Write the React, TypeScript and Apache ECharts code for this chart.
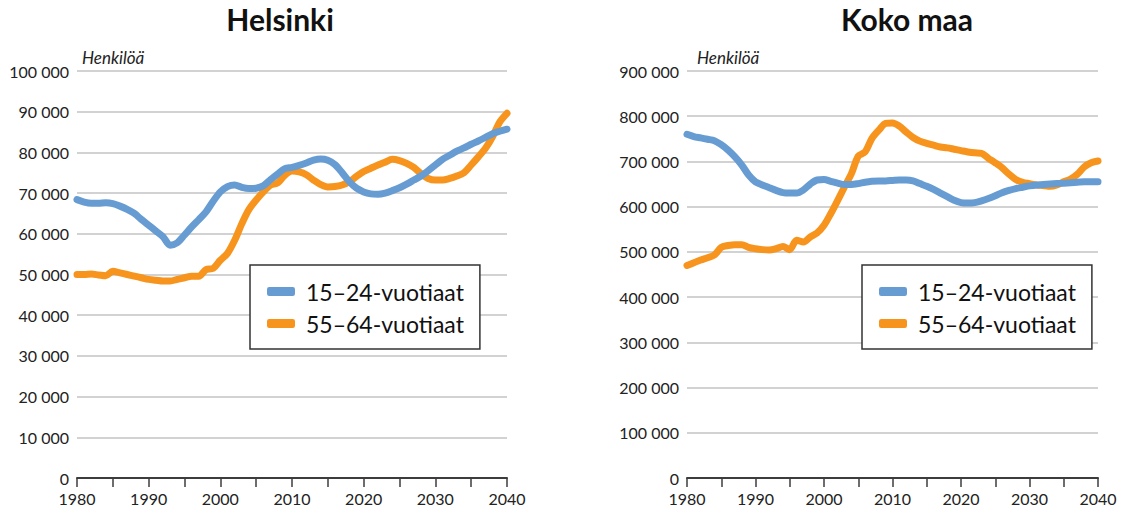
import React, { useEffect, useRef } from "react";
import * as echarts from "echarts";

// Years 1980..2040
const startYear = 1980;
const endYear = 2040;
const seriesNames = ["15–24-vuotiaat", "55–64-vuotiaat"];
const chartTitles = ["Helsinki", "Koko maa"];
const unitLabel = "Henkilöä";

// Helsinki, thousands of persons
const helsinkiYoung = [
  68.4, 67.8, 67.5, 67.5, 67.6, 67.4, 66.8, 66.0, 65.0, 63.5,
  62.1, 60.7, 59.3, 57.2, 57.8, 59.7, 61.7, 63.5, 65.4, 68.0,
  70.3, 71.6, 72.0, 71.4, 71.1, 71.2, 71.8, 73.3, 74.7, 76.0,
  76.3, 76.8, 77.4, 78.1, 78.4, 78.1, 77.0, 75.0, 72.8, 71.2,
  70.3, 69.8, 69.7, 70.0, 70.6, 71.3, 72.2, 73.2, 74.2, 75.5,
  76.9, 78.3, 79.3, 80.3, 81.1, 82.0, 82.8, 83.7, 84.6, 85.2,
  85.7,
];
const helsinkiOld = [
  50.0, 50.0, 50.1, 49.9, 49.7, 50.8, 50.4, 50.0, 49.6, 49.2,
  48.8, 48.6, 48.4, 48.4, 48.8, 49.2, 49.6, 49.6, 51.2, 51.5,
  53.5, 55.2, 58.4, 62.5, 66.0, 68.3, 70.3, 72.0, 72.5, 74.4,
  75.4, 75.2, 74.5, 73.2, 72.1, 71.5, 71.6, 72.0, 72.8, 74.1,
  75.3, 76.1, 76.9, 77.6, 78.3, 78.0, 77.3, 76.3, 74.8, 73.6,
  73.2, 73.2, 73.6, 74.2, 75.0, 76.9, 78.9, 81.0, 83.9, 87.5,
  89.6,
];
// Koko maa (whole country), thousands of persons
const countryYoung = [
  760, 755, 752, 749, 746, 737, 725, 710, 692, 670,
  655, 648, 642, 636, 631, 630, 630, 637, 650, 659,
  660, 656, 652, 649, 649, 651, 654, 656, 657, 657,
  658, 659, 659, 657, 651, 645, 638, 630, 622, 614,
  609, 608, 609, 613, 618, 624, 631, 636, 640, 643,
  646, 648, 649, 650, 651, 652, 653, 654, 655, 655,
  655,
];
const countryOld = [
  470, 476, 482, 487, 493, 510, 514, 516, 516, 510,
  507, 505, 504, 507, 512, 505, 526, 522, 533, 542,
  559, 585, 614, 644, 673, 712, 721, 751, 769, 784,
  785, 778, 765, 753, 745, 740, 736, 732, 730, 727,
  724, 721, 719, 718, 707, 697, 686, 672, 660, 654,
  651, 648, 647, 645, 648, 655, 661, 672, 688, 697,
  701,
];

const leftMax = 100000;
const leftInterval = 10000;
const rightMax = 900000;
const rightInterval = 100000;

const BLUE = "#679CD3";
const ORANGE = "#F7941E";
const FONT = "Lato, 'Open Sans', sans-serif";

function toPairs(arr: number[]) {
  return arr.map((v, i) => [startYear + i, Math.round(v * 1000)]);
}

function fmt(v: number) {
  if (v === 0) return "0";
  const s = String(Math.round(v));
  return s.replace(/\B(?=(\d{3})+(?!\d))/g, " ");
}

function xAxisCfg(gridIndex: number) {
  return {
    type: "value",
    gridIndex,
    min: startYear,
    max: endYear,
    interval: 5,
    axisLine: { show: true, onZero: false, lineStyle: { color: "#3c3c3c", width: 2 } },
    axisTick: { show: true, length: 9, lineStyle: { color: "#3c3c3c", width: 1.5 } },
    splitLine: { show: false },
    axisLabel: {
      margin: 12,
      fontSize: 16,
      fontFamily: FONT,
      color: "#222",
      formatter: (v: number) => (v % 10 === 0 ? String(v) : ""),
    },
  };
}

function yAxisCfg(gridIndex: number, max: number, interval: number) {
  return {
    type: "value",
    gridIndex,
    min: 0,
    max,
    interval,
    axisLine: { show: false },
    axisTick: { show: false },
    splitLine: { show: true, lineStyle: { color: "#c3c3c3", width: 1.5 } },
    axisLabel: {
      margin: 8,
      fontSize: 16,
      fontFamily: FONT,
      color: "#222",
      formatter: (v: number) => fmt(v),
    },
  };
}

function lineSeries(name: string, color: string, data: number[], idx: number) {
  return {
    type: "line",
    name,
    xAxisIndex: idx,
    yAxisIndex: idx,
    data: toPairs(data),
    showSymbol: false,
    symbol: "none",
    smooth: 0.3,
    lineStyle: { color, width: 7, cap: "round", join: "round" },
    itemStyle: { color },
    z: color === BLUE ? 3 : 2,
  };
}

function legendCfg(left: number, top: number) {
  return {
    left,
    top,
    orient: "vertical",
    data: seriesNames.map((n) => ({ name: n })),
    selectedMode: false,
    icon: "roundRect",
    itemWidth: 28,
    itemHeight: 9,
    itemGap: 9,
    backgroundColor: "#fff",
    borderColor: "#333",
    borderWidth: 1.5,
    borderRadius: 0,
    padding: [15, 16, 14, 17],
    textStyle: { fontSize: 23, fontFamily: FONT, color: "#111", padding: [0, 0, 0, 6] },
  };
}

export default function App() {
  const ref = useRef<HTMLDivElement>(null);
  useEffect(() => {
    document.body.style.margin = "0";
    if (!ref.current) return;
    const chart = echarts.init(ref.current, undefined, { renderer: "svg" });
    chart.setOption({
      animation: false,
      backgroundColor: "#fff",
      grid: [
        { left: 77, right: 639, top: 71, bottom: 33, containLabel: false },
        { left: 687, right: 48, top: 71, bottom: 33, containLabel: false },
      ],
      xAxis: [xAxisCfg(0), xAxisCfg(1)],
      yAxis: [yAxisCfg(0, leftMax, leftInterval), yAxisCfg(1, rightMax, rightInterval)],
      legend: [legendCfg(250, 265), legendCfg(862, 265)],
      series: [
        lineSeries(seriesNames[0], BLUE, helsinkiYoung, 0),
        lineSeries(seriesNames[1], ORANGE, helsinkiOld, 0),
        lineSeries(seriesNames[0], BLUE, countryYoung, 1),
        lineSeries(seriesNames[1], ORANGE, countryOld, 1),
      ],
      graphic: [
        {
          type: "text",
          x: 280,
          y: 4,
          style: {
            text: chartTitles[0],
            fontSize: 30,
            fontWeight: "bold",
            fontFamily: FONT,
            fill: "#111",
            textAlign: "center",
          },
        },
        {
          type: "text",
          x: 907,
          y: 4,
          style: {
            text: chartTitles[1],
            fontSize: 30,
            fontWeight: "bold",
            fontFamily: FONT,
            fill: "#111",
            textAlign: "center",
          },
        },
        {
          type: "text",
          x: 82,
          y: 49,
          style: { text: unitLabel, fontSize: 17, fontStyle: "italic", fontFamily: FONT, fill: "#222" },
        },
        {
          type: "text",
          x: 697,
          y: 49,
          style: { text: unitLabel, fontSize: 17, fontStyle: "italic", fontFamily: FONT, fill: "#222" },
        },
      ],
    });
    return () => chart.dispose();
  }, []);
  return <div ref={ref} style={{ width: 1146, height: 511 }} />;
}
